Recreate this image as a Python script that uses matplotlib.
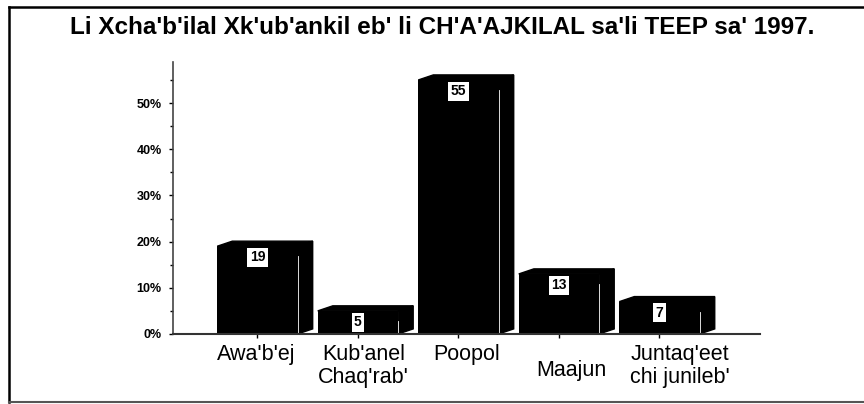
import matplotlib.pyplot as plt
from matplotlib.patches import Polygon
from matplotlib.ticker import FuncFormatter, MultipleLocator
from matplotlib.lines import Line2D

plt.rcParams['font.family'] = ['Liberation Sans', 'DejaVu Sans']

title = "Li Xcha'b'ilal Xk'ub'ankil eb' li CH'A'AJKILAL sa'li TEEP sa' 1997."
categories = ["Awa'b'ej", "Kub'anel\nChaq'rab'", "Poopol", "Maajun", "Juntaq'eet\nchi junileb'"]
values = [19, 5, 55, 13, 7]

# label placement tweaks (points): horizontal nudge, vertical drop
label_dx = [-1, 4, 6, 9, 15]
label_dy = [-7, -7, -7, -19, -7]

fig = plt.figure(figsize=(8.64, 4.04), dpi=100)
ax = fig.add_axes([0.2002, 0.1733, 0.6794, 0.6733])

width = 0.8
dx, dy = 0.15, 1.1   # fake 3d depth
for i, v in enumerate(values):
    x0, x1 = i - width / 2, i + width / 2
    ax.bar(i, v, width=width, color='black', zorder=2)
    side = [(x1, 0), (x1 + dx, dy), (x1 + dx, v + dy), (x1, v)]
    top = [(x0, v), (x0 + dx, v + dy), (x1 + dx, v + dy), (x1, v)]
    ax.add_patch(Polygon(side, closed=True, color='black', zorder=2))
    ax.add_patch(Polygon(top, closed=True, color='black', zorder=2))
    # faint white edge between front and side
    ax.plot([x1, x1], [0.4, v - 2.2], color='white', lw=0.6, zorder=3)
    ax.annotate(str(v), (i, v), xytext=(0, -8), textcoords='offset points',
                ha='center', va='center', fontsize=10, fontweight='bold',
                bbox=dict(facecolor='white', edgecolor='none', pad=1.8), zorder=4)

ax.set_xlim(-0.84, 5.0)
ax.set_ylim(0, 58.9)
ax.yaxis.set_major_locator(MultipleLocator(10))
ax.yaxis.set_minor_locator(MultipleLocator(5))
ax.yaxis.set_major_formatter(FuncFormatter(lambda y, p: f"{int(y)}%"))
ax.set_xticks(range(len(categories)))
ax.set_xticklabels([])
for i, cat in enumerate(categories):
    ax.annotate(cat, (i, 0), xycoords=('data', 'axes fraction'),
                xytext=(label_dx[i], label_dy[i]), textcoords='offset points',
                ha='center', va='top', fontsize=15.5, linespacing=1.15)
ax.tick_params(axis='y', which='major', length=3, width=1, labelsize=9, pad=5)
ax.tick_params(axis='y', which='minor', length=2, width=1)
ax.tick_params(axis='x', length=3, width=1)
for lab in ax.get_yticklabels():
    lab.set_fontweight('bold')

for s in ['top', 'right']:
    ax.spines[s].set_visible(False)
ax.spines['left'].set_color('#444444')
ax.spines['bottom'].set_color('#333333')
ax.spines['left'].set_linewidth(1.2)
ax.spines['bottom'].set_linewidth(1.5)

fig.text(0.512, 0.933, title, ha='center', va='center', fontsize=17.5, fontweight='bold')

# page frame
fig.add_artist(Line2D([9 / 864, 9 / 864], [1 - 7 / 404, 1 - 402 / 404], transform=fig.transFigure, color='black', lw=1.8))
fig.add_artist(Line2D([9 / 864, 1], [1 - 7 / 404, 1 - 7 / 404], transform=fig.transFigure, color='black', lw=1.8))
fig.add_artist(Line2D([9 / 864, 1], [1 - 402 / 404, 1 - 402 / 404], transform=fig.transFigure, color='#555555', lw=1.5))

fig.savefig('out.png', dpi=100)
